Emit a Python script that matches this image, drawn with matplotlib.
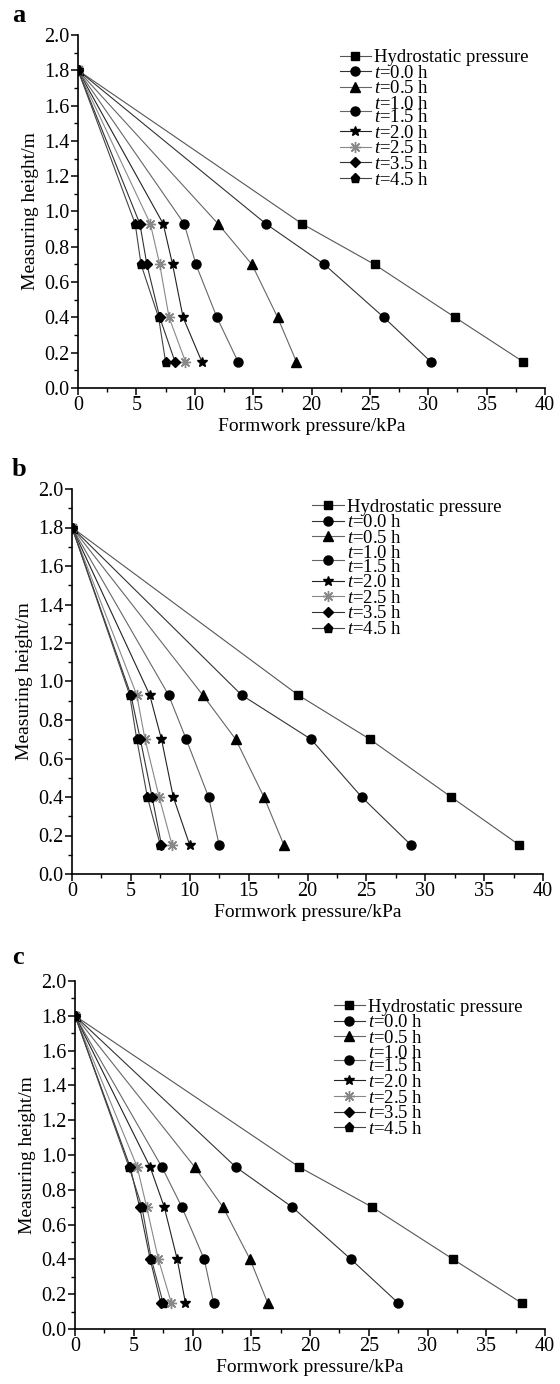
import matplotlib.pyplot as plt
from matplotlib.ticker import MultipleLocator

plt.rcParams['font.family'] = ['Liberation Serif', 'DejaVu Serif']
plt.rcParams['mathtext.fontset'] = 'custom'
plt.rcParams['mathtext.it'] = 'Liberation Serif:italic'
plt.rcParams['mathtext.rm'] = 'Liberation Serif'

# measuring heights (m), first point is the top of the formwork
heights = [1.8, 0.93, 0.70, 0.40, 0.15]

labels = ['Hydrostatic pressure', '$t$=0.0 h', '$t$=0.5 h', '$t$=1.0 h\n$t$=1.5 h',
          '$t$=2.0 h', '$t$=2.5 h', '$t$=3.5 h', '$t$=4.5 h']

# panel a, formwork pressure (kPa)
hydro_a = [0, 19.2, 25.4, 32.3, 38.1]
t00_a = [0, 16.1, 21.1, 26.2, 30.2]
t05_a = [0, 12.0, 14.9, 17.1, 18.7]
t10_a = [0, 9.1, 10.1, 11.9, 13.7]
t20_a = [0, 7.3, 8.1, 9.0, 10.6]
t25_a = [0, 6.2, 7.0, 7.8, 9.2]
t35_a = [0, 5.3, 5.9, 7.0, 8.3]
t45_a = [0, 4.9, 5.4, 6.9, 7.5]

# panel b
hydro_b = [0, 19.2, 25.3, 32.2, 38.0]
t00_b = [0, 14.4, 20.3, 24.6, 28.8]
t05_b = [0, 11.1, 13.9, 16.3, 18.0]
t10_b = [0, 8.2, 9.7, 11.6, 12.5]
t20_b = [0, 6.6, 7.6, 8.6, 10.0]
t25_b = [0, 5.5, 6.2, 7.4, 8.5]
t35_b = [0, 5.0, 5.8, 6.8, 7.6]
t45_b = [0, 4.9, 5.5, 6.4, 7.5]

# panel c
hydro_c = [0, 19.1, 25.3, 32.2, 38.0]
t00_c = [0, 13.7, 18.5, 23.5, 27.5]
t05_c = [0, 10.2, 12.6, 14.9, 16.4]
t10_c = [0, 7.4, 9.1, 11.0, 11.8]
t20_c = [0, 6.4, 7.6, 8.7, 9.4]
t25_c = [0, 5.3, 6.1, 7.1, 8.2]
t35_c = [0, 4.7, 5.5, 6.4, 7.3]
t45_c = [0, 4.6, 5.7, 6.5, 7.5]

markers = ['s', 'o', '^', 'o', '*', (8, 2, 0), 'D', 'p']
msizes = [5.5, 6.5, 6.5, 6.5, 7.5, 8, 5, 6.5]
lcolors = ['#555555', '#333333', '#666666', '#666666', '#222222', '#888888', '#333333', '#444444']
mcolors = ['black', 'black', 'black', 'black', 'black', '#888888', 'black', 'black']

panels = [
    ('a', [hydro_a, t00_a, t05_a, t10_a, t20_a, t25_a, t35_a, t45_a],
     [78/560, 1-388/1384, 467/560, 353/1384], (0.56, 0.96), (12/560, 1-15/1384)),
    ('b', [hydro_b, t00_b, t05_b, t10_b, t20_b, t25_b, t35_b, t45_b],
     [72/560, 1-874/1384, 471/560, 385/1384], (0.51, 0.975), (12/560, 1-470/1384)),
    ('c', [hydro_c, t00_c, t05_c, t10_c, t20_c, t25_c, t35_c, t45_c],
     [75/560, 1-1329/1384, 470/560, 348/1384], (0.55, 0.95), (12/560, 1-958/1384)),
]

fig = plt.figure(figsize=(5.6, 13.84), dpi=100)

for letter, series, rect, leg_pos, let_pos in panels:
    ax = fig.add_axes(rect)
    handles = []
    for i, vals in enumerate(series):
        ln, = ax.plot(vals, heights, color=lcolors[i], lw=0.8,
                      marker=markers[i], ms=msizes[i], mfc=mcolors[i], mec=mcolors[i], mew=1.0)
        handles.append(ln)

    ax.set_xlim(0, 40)
    ax.set_ylim(0, 2.0)
    ax.xaxis.set_major_locator(MultipleLocator(5))
    ax.xaxis.set_minor_locator(MultipleLocator(2.5))
    ax.yaxis.set_major_locator(MultipleLocator(0.2))
    ax.yaxis.set_minor_locator(MultipleLocator(0.1))
    ax.yaxis.set_major_formatter(plt.FormatStrFormatter('%.1f'))
    for s in ['top', 'right']:
        ax.spines[s].set_visible(False)
    for s in ['left', 'bottom']:
        ax.spines[s].set_linewidth(1.2)
    ax.tick_params(which='major', direction='out', length=5, width=1.1, labelsize=14.5, pad=1)
    ax.tick_params(which='minor', direction='out', length=3, width=1.0)
    ax.set_xlabel('Formwork pressure/kPa', fontsize=14, labelpad=2)
    ax.set_ylabel('Measuring height/m', fontsize=14, labelpad=4)

    leg = ax.legend(handles, labels, loc='upper left', bbox_to_anchor=leg_pos, frameon=False,
                    fontsize=13.5, labelspacing=-0.08, handlelength=1.7, handletextpad=0.15,
                    borderpad=0, borderaxespad=0)
    leg.get_texts()[3].set_linespacing(0.7)

    fig.text(let_pos[0], let_pos[1], letter, fontsize=19, fontweight='bold', va='center', ha='left')

fig.savefig('out.png', dpi=100)
